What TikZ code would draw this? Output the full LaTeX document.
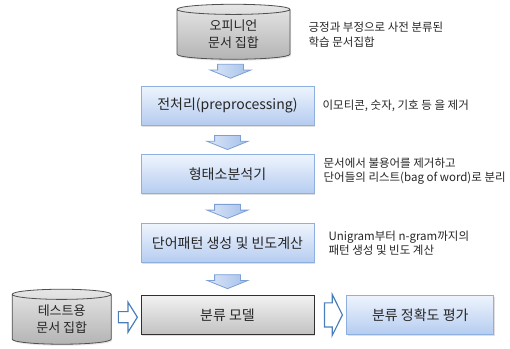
\documentclass[tikz,border=0pt]{standalone}
\usepackage{fontspec}
\setmainfont{Noto Sans CJK KR}
\usepackage{tikz}
\usetikzlibrary{positioning, shapes.geometric, shapes.arrows, shadows, calc}
\definecolor{boxtop}{HTML}{EEF4FD}
\definecolor{boxbot}{HTML}{B5CCF0}
\definecolor{boxline}{HTML}{8DB0E0}
\definecolor{arrtop}{HTML}{DCE7F7}
\definecolor{arrbot}{HTML}{A3BFEA}
\definecolor{arrline}{HTML}{7C9FD6}
\definecolor{arrdark}{HTML}{4A7EBB}
\definecolor{graytop}{HTML}{F2F2F2}
\definecolor{graybot}{HTML}{C2C2C2}
\definecolor{grayline}{HTML}{303030}
\definecolor{cyltop}{HTML}{E6E6E6}
\definecolor{cylbot}{HTML}{B4B4B4}
\definecolor{cylline}{HTML}{505050}
\definecolor{inkgray}{HTML}{262626}

\begin{document}
\begin{tikzpicture}[
  x=1pt, y=-1pt,
  stepbox/.style={
    rectangle, top color=boxtop, bottom color=boxbot,
    draw=boxline, line width=0.8pt,
    drop shadow={shadow xshift=1pt, shadow yshift=-1.5pt, opacity=0.25},
    text=inkgray, font=\fontsize{14}{17}\selectfont,
    minimum width=173pt, minimum height=39pt, inner sep=2pt
  },
  modelbox/.style={
    stepbox, top color=graytop, bottom color=graybot, draw=grayline
  },
  dbcyl/.style={
    cylinder, shape border rotate=90, aspect=0.2,
    draw=cylline, line width=0.8pt,
    top color=cyltop, bottom color=cylbot,
    drop shadow={shadow xshift=1pt, shadow yshift=-1.5pt, opacity=0.2},
    text=inkgray, font=\fontsize{13}{17}\selectfont, align=center,
    minimum width=113pt, minimum height=55pt, inner sep=0pt
  },
  note/.style={
    text=inkgray, font=\fontsize{11.5}{14.5}\selectfont,
    align=left, inner sep=0pt, anchor=west
  },
  downarr/.style={
    single arrow, rotate=-90, top color=arrtop, bottom color=arrbot,
    shading angle=90,
    draw=arrline, line width=0.8pt,
    minimum height=14pt, inner xsep=0pt, inner ysep=12.5pt,
    single arrow head extend=7.5pt, single arrow tip angle=136
  },
  sidearr/.style={
    single arrow, fill=white, draw=arrdark, line width=1.2pt,
    minimum height=18pt, inner xsep=0pt, inner ysep=11.5pt,
    single arrow head extend=8.5pt, single arrow tip angle=127
  }
]
  \useasboundingbox (0,0) rectangle (510,348);

  % training side
  \node[dbcyl] (train) at (233.5,34.5) {오피니언\\문서 집합};
  \node[stepbox, below=26pt of train, xshift=-6pt] (pre) {전처리(preprocessing)};
  \node[stepbox, below=29pt of pre] (morph) {형태소분석기};
  \node[stepbox, below=29pt of morph] (ngram) {단어패턴 생성 및 빈도계산};
  \node[modelbox, below=32pt of ngram] (model) {분류 모델};
  \node[stepbox, right=32pt of model, minimum width=147pt] (eval) {분류 정확도 평가};
  \node[dbcyl, left=29pt of model, yshift=-4.5pt, minimum width=99pt] (test) {테스트용\\문서 집합};

  % notes
  \node[note, right=18pt of train] (n1) {긍정과 부정으로 사전 분류된\\학습 문서집합};
  \node[note, right=8pt of pre] (n2) {이모티콘, 숫자, 기호 등 을 제거};
  \node[note, right=9pt of morph, yshift=3pt] (n3) {문서에서 불용어를 제거하고\\단어들의 리스트(bag of word)로 분리};
  \node[note, right=14pt of ngram] (n4) {Unigram부터 n-gram까지의\\패턴 생성 및 빈도 계산};

  % block arrows
  \node[downarr] at ($(train.south)!0.5!(pre.north)+(0,-4)$) {};
  \node[downarr] at ($(pre.south)!0.5!(morph.north)$) {};
  \node[downarr] at ($(morph.south)!0.5!(ngram.north)$) {};
  \node[downarr] at ($(ngram.south)!0.5!(model.north)$) {};
  \node[sidearr] at ($(model.east)!0.5!(eval.west)$) {};
  \node[sidearr, minimum height=19pt, inner ysep=5pt,
        single arrow head extend=9.5pt, single arrow tip angle=116]
    at ($(test.east)!0.5!(model.west)$) {};
\end{tikzpicture}
\end{document}
